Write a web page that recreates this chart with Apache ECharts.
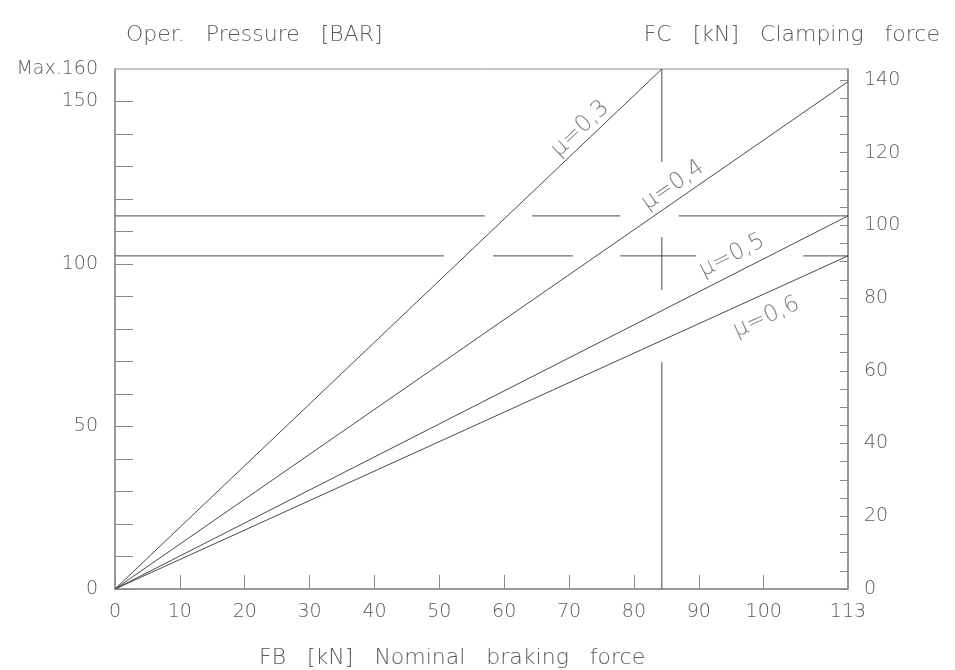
<!DOCTYPE html>
<html>
<head>
<meta charset="utf-8">
<script src="https://cdn.jsdelivr.net/npm/echarts@6/dist/echarts.min.js"></script>
<style>html,body{margin:0;padding:0;background:#fff}#c{width:955px;height:670px}</style>
</head>
<body>
<div id="c"></div>
<script>
// ---- data ----
const xMin = 0, xMax = 113;          // FB [kN]
const pMax = 160;                     // Oper. pressure [BAR]
const fcMax = 143;                    // FC [kN] at pressure max
const xTickValues = [0,10,20,30,40,50,60,70,80,90,100];
const xLabelValues = [0,10,20,30,40,50,60,70,80,90,100,113];
const pTickValues = [0,10,20,30,40,50,60,70,80,90,100,110,120,130,140,150];
const pLabelValues = [0,50,100,150,160];
const fcTickValues = [0,5,10,15,20,25,30,35,40,45,50,55,60,65,70,75,80,85,90,95,100,105,110,115,120,125,130,135,140];
const fcLabelValues = [0,20,40,60,80,100,120,140];

const muNames = ['μ=0,3','μ=0,4','μ=0,5','μ=0,6'];
// end points of each line [FB, pressure]
const mu03 = [[0,0],[84.3,160]];
const mu04 = [[0,0],[113,156.1]];
const mu05 = [[0,0],[113,114.8]];
const mu06 = [[0,0],[113,102.5]];

// reading guide lines (segments separated by gaps)
const guideUpperP = 114.8;
const guideUpperX = [[0,57.0],[64.3,77.9],[86.9,113]];
const guideLowerP = 102.5;
const guideLowerX = [[0,50.7],[58.3,70.6],[77.9,89.6],[106.1,113]];
const guideVertX = 84.3;
const guideVertP = [[160,131.4],[108.3,92.0],[69.8,0]];

// ---- label placement (positions in data units, rotation in degrees) ----
const labelPlace = [
  {x:71.7, p:141.6, rot:43.5},
  {x:86.0, p:124.2, rot:34.7},
  {x:95.1, p:102.6, rot:27},
  {x:100.4, p:83.6, rot:24.4}
];

function segsH(p, xs){ const d=[]; xs.forEach(s=>{d.push([s[0],p],[s[1],p],[null,null]);}); return d; }
function segsV(x, ps){ const d=[]; ps.forEach(s=>{d.push([x,s[0]],[x,s[1]],[null,null]);}); return d; }

const FONT = 'DejaVu Sans';
const TXT = '#5a5a5a';
const AX = '#8a8a8a';
const LN = '#4a4a4a';

const lineSeries = [mu03,mu04,mu05,mu06].map((d,i)=>({
  name: muNames[i], type:'line', data:d, showSymbol:false, silent:true,
  lineStyle:{color:LN,width:1}, xAxisIndex:0, yAxisIndex:0
}));

const guideSeries = [
  segsH(guideUpperP, guideUpperX),
  segsH(guideLowerP, guideLowerX),
  segsV(guideVertX, guideVertP)
].map(d=>({type:'line', data:d, showSymbol:false, silent:true, connectNulls:false,
  lineStyle:{color:LN,width:1}, xAxisIndex:0, yAxisIndex:0}));

const labelSeries = {
  type:'scatter', symbolSize:0, silent:true, xAxisIndex:0, yAxisIndex:0,
  data: labelPlace.map((l,i)=>({value:[l.x,l.p], name:muNames[i],
    label:{show:true, position:'inside', formatter:muNames[i], rotate:l.rot,
      fontFamily:FONT, fontSize:23, color:TXT, fontWeight:'lighter'}}))
};

const titleStyle = {fontFamily:FONT,fontSize:22,fontWeight:'lighter',color:TXT};

const chart = echarts.init(document.getElementById('c'), null, {renderer:'canvas'});
chart.setOption({
  animation:false,
  backgroundColor:'#fff',
  title:[
    {text:'Oper.   Pressure   [BAR]', left:121, top:19, textStyle:titleStyle},
    {text:'FC   [kN]   Clamping   force', right:10, top:19, textStyle:titleStyle},
    {text:'FB   [kN]   Nominal   braking   force', left:254, top:642, textStyle:titleStyle}
  ],
  grid:{left:115, right:107, top:69, bottom:81, show:true, borderColor:AX, borderWidth:1, backgroundColor:'transparent'},
  xAxis:{type:'value', min:xMin, max:xMax,
    axisLine:{show:true, lineStyle:{color:AX,width:1.5}},
    axisTick:{show:true, inside:true, length:14, lineStyle:{color:AX,width:1}, customValues:xTickValues},
    axisLabel:{customValues:xLabelValues, margin:14, fontFamily:FONT, fontSize:19, fontWeight:'lighter', color:TXT},
    splitLine:{show:false}},
  yAxis:[
    {type:'value', min:0, max:pMax, position:'left',
      axisLine:{show:true, lineStyle:{color:AX,width:1.5}},
      axisTick:{show:true, inside:true, length:18, lineStyle:{color:AX,width:1}, customValues:pTickValues},
      axisLabel:{customValues:pLabelValues, margin:17, fontFamily:FONT, fontSize:19, fontWeight:'lighter', color:TXT,
        formatter:v=> v===160 ? 'Max.160' : String(v)},
      splitLine:{show:false}},
    {type:'value', min:0, max:fcMax, position:'right',
      axisLine:{show:true, lineStyle:{color:AX,width:1.5}},
      axisTick:{show:true, inside:true, length:8, lineStyle:{color:AX,width:1}, customValues:fcTickValues},
      axisLabel:{customValues:fcLabelValues, margin:16, fontFamily:FONT, fontSize:19, fontWeight:'lighter', color:TXT},
      splitLine:{show:false}}
  ],
  series:[...lineSeries, ...guideSeries, labelSeries]
});
</script>
</body>
</html>
